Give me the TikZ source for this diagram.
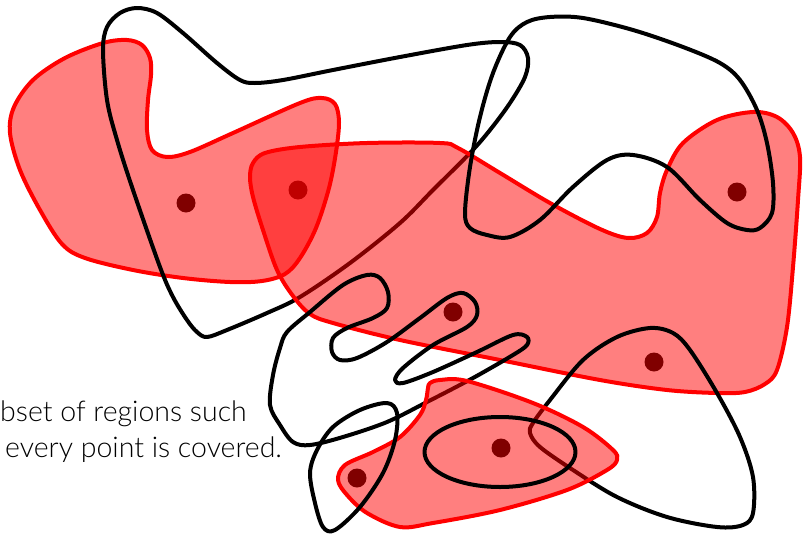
\documentclass[tikz,border=0pt]{standalone}
\usepackage{fontspec}
\setmainfont{Lato Light}
\usepackage{tikz}
\usepackage{xcolor}
\definecolor{CoverRed}{HTML}{FF0000}
\definecolor{CoverInk}{HTML}{000000}

\begin{document}
\begin{tikzpicture}[x=1pt,y=-1pt,line join=round,
    region/.style={draw=CoverRed,line width=4pt,fill=CoverRed,fill opacity=0.5},
    lasso/.style={draw=CoverInk,line width=4pt},
    site/.style={fill=CoverInk}]
  \useasboundingbox (0,0) rectangle (804,536);
  % points to be covered
  \fill[site] (186,203) circle (9.5);
  \fill[site] (298,190) circle (9.5);
  \fill[site] (453,312) circle (9.5);
  \fill[site] (654,362) circle (9.5);
  \fill[site] (737,192) circle (9.5);
  \fill[site] (501,448) circle (9.5);
  \fill[site] (357,478) circle (9.5);
  % left region
  \draw[region] plot[smooth cycle,tension=0.55] coordinates {
    (103,43) (127,40) (142,45) (150,58) (151,75) (148,100) (147,130)
    (152,150) (167,157) (190,152) (233,133) (300,103) (322,98) (335,104)
    (339,122) (336,152) (329,188) (316,228) (300,258) (285,274) (262,281)
    (230,282) (183,278) (133,270) (85,258) (62,244) (40,210) (20,170)
    (10,133) (14,107) (33,80) (65,58)};
  \draw[lasso] plot[smooth cycle,tension=0.55] coordinates {
    (137,8) (157,13) (183,33) (217,63) (240,80) (255,83) (283,80) (333,70)
    (400,57) (467,45) (500,42) (520,45) (528,58) (525,77) (510,103)
    (490,130) (470,153) (433,190) (400,223) (350,263) (300,297) (267,313)
    (227,330) (207,337) (197,332) (187,320) (173,297) (160,267) (133,190)
    (117,140) (107,100) (103,50) (107,27) (120,13)};
  % big region
  \draw[region] plot[smooth cycle,tension=0.55] coordinates {
    (253,163) (265,153) (300,147) (367,143) (440,143) (458,148) (500,173)
    (550,203) (600,229) (628,238) (647,233) (657,217) (660,193) (667,170)
    (683,143) (717,120) (753,112) (777,117) (793,133) (800,157) (798,200)
    (793,267) (787,327) (777,370) (765,384) (745,392) (717,393) (667,390)
    (600,380) (500,360) (400,340) (333,323) (310,314) (293,296) (277,270)
    (263,230) (253,197) (250,177)};
  \draw[lasso] plot[smooth cycle,tension=0.55] coordinates {
    (527,22) (550,17) (583,18) (633,30) (683,47) (720,63) (740,80)
    (757,110) (767,143) (773,183) (772,213) (760,228) (747,230) (727,223)
    (700,200) (667,167) (633,155) (607,160) (573,187) (540,220) (510,237)
    (487,235) (470,228) (465,213) (470,167) (480,117) (493,73) (510,37)};
  \draw[lasso] plot[smooth cycle,tension=0.55] coordinates {
    (287,332) (310,312) (343,285) (367,275) (380,278) (388,292) (387,308)
    (373,318) (347,328) (333,338) (332,352) (340,360) (357,358) (387,342)
    (420,318) (447,298) (463,293) (475,302) (477,315) (467,327) (433,345)
    (403,368) (395,380) (403,383) (433,372) (477,352) (513,335) (527,337)
    (527,345) (513,355) (473,378) (427,402) (387,422) (343,437) (310,445)
    (293,442) (280,425) (270,405) (273,375) (280,348)};
  \draw[lasso] plot[smooth cycle,tension=0.55] coordinates {
    (530,433) (533,423) (550,400) (583,360) (617,337) (650,328) (673,333)
    (690,350) (717,393) (740,437) (753,477) (753,513) (743,525) (717,527)
    (667,517) (617,497) (573,470) (540,447)};
  % lower region
  \draw[region] plot[smooth cycle,tension=0.55] coordinates {
    (430,383) (440,380) (467,381) (533,403) (583,427) (613,450) (617,460)
    (607,470) (567,490) (500,510) (433,523) (400,527) (367,513) (347,495)
    (338,480) (345,465) (373,452) (400,437) (420,415) (426,400) (428,388)};
  \draw[lasso] (500,452) ellipse [x radius=75.5,y radius=35];
  \draw[lasso] plot[smooth cycle,tension=0.55] coordinates {
    (387,403) (397,413) (395,440) (383,473) (360,507) (335,530) (323,527)
    (315,503) (310,473) (317,450) (333,427) (360,410)};
  % caption, cut off at the left edge
  \node[anchor=base west,inner sep=0pt,font=\fontsize{28.5}{36}\selectfont] (captionA) at (0,421) {bset of regions such};
  \node[anchor=base west,inner sep=0pt,font=\fontsize{28.5}{36}\selectfont] (captionB) at (5,457) {every point is covered.};
\end{tikzpicture}
\end{document}
